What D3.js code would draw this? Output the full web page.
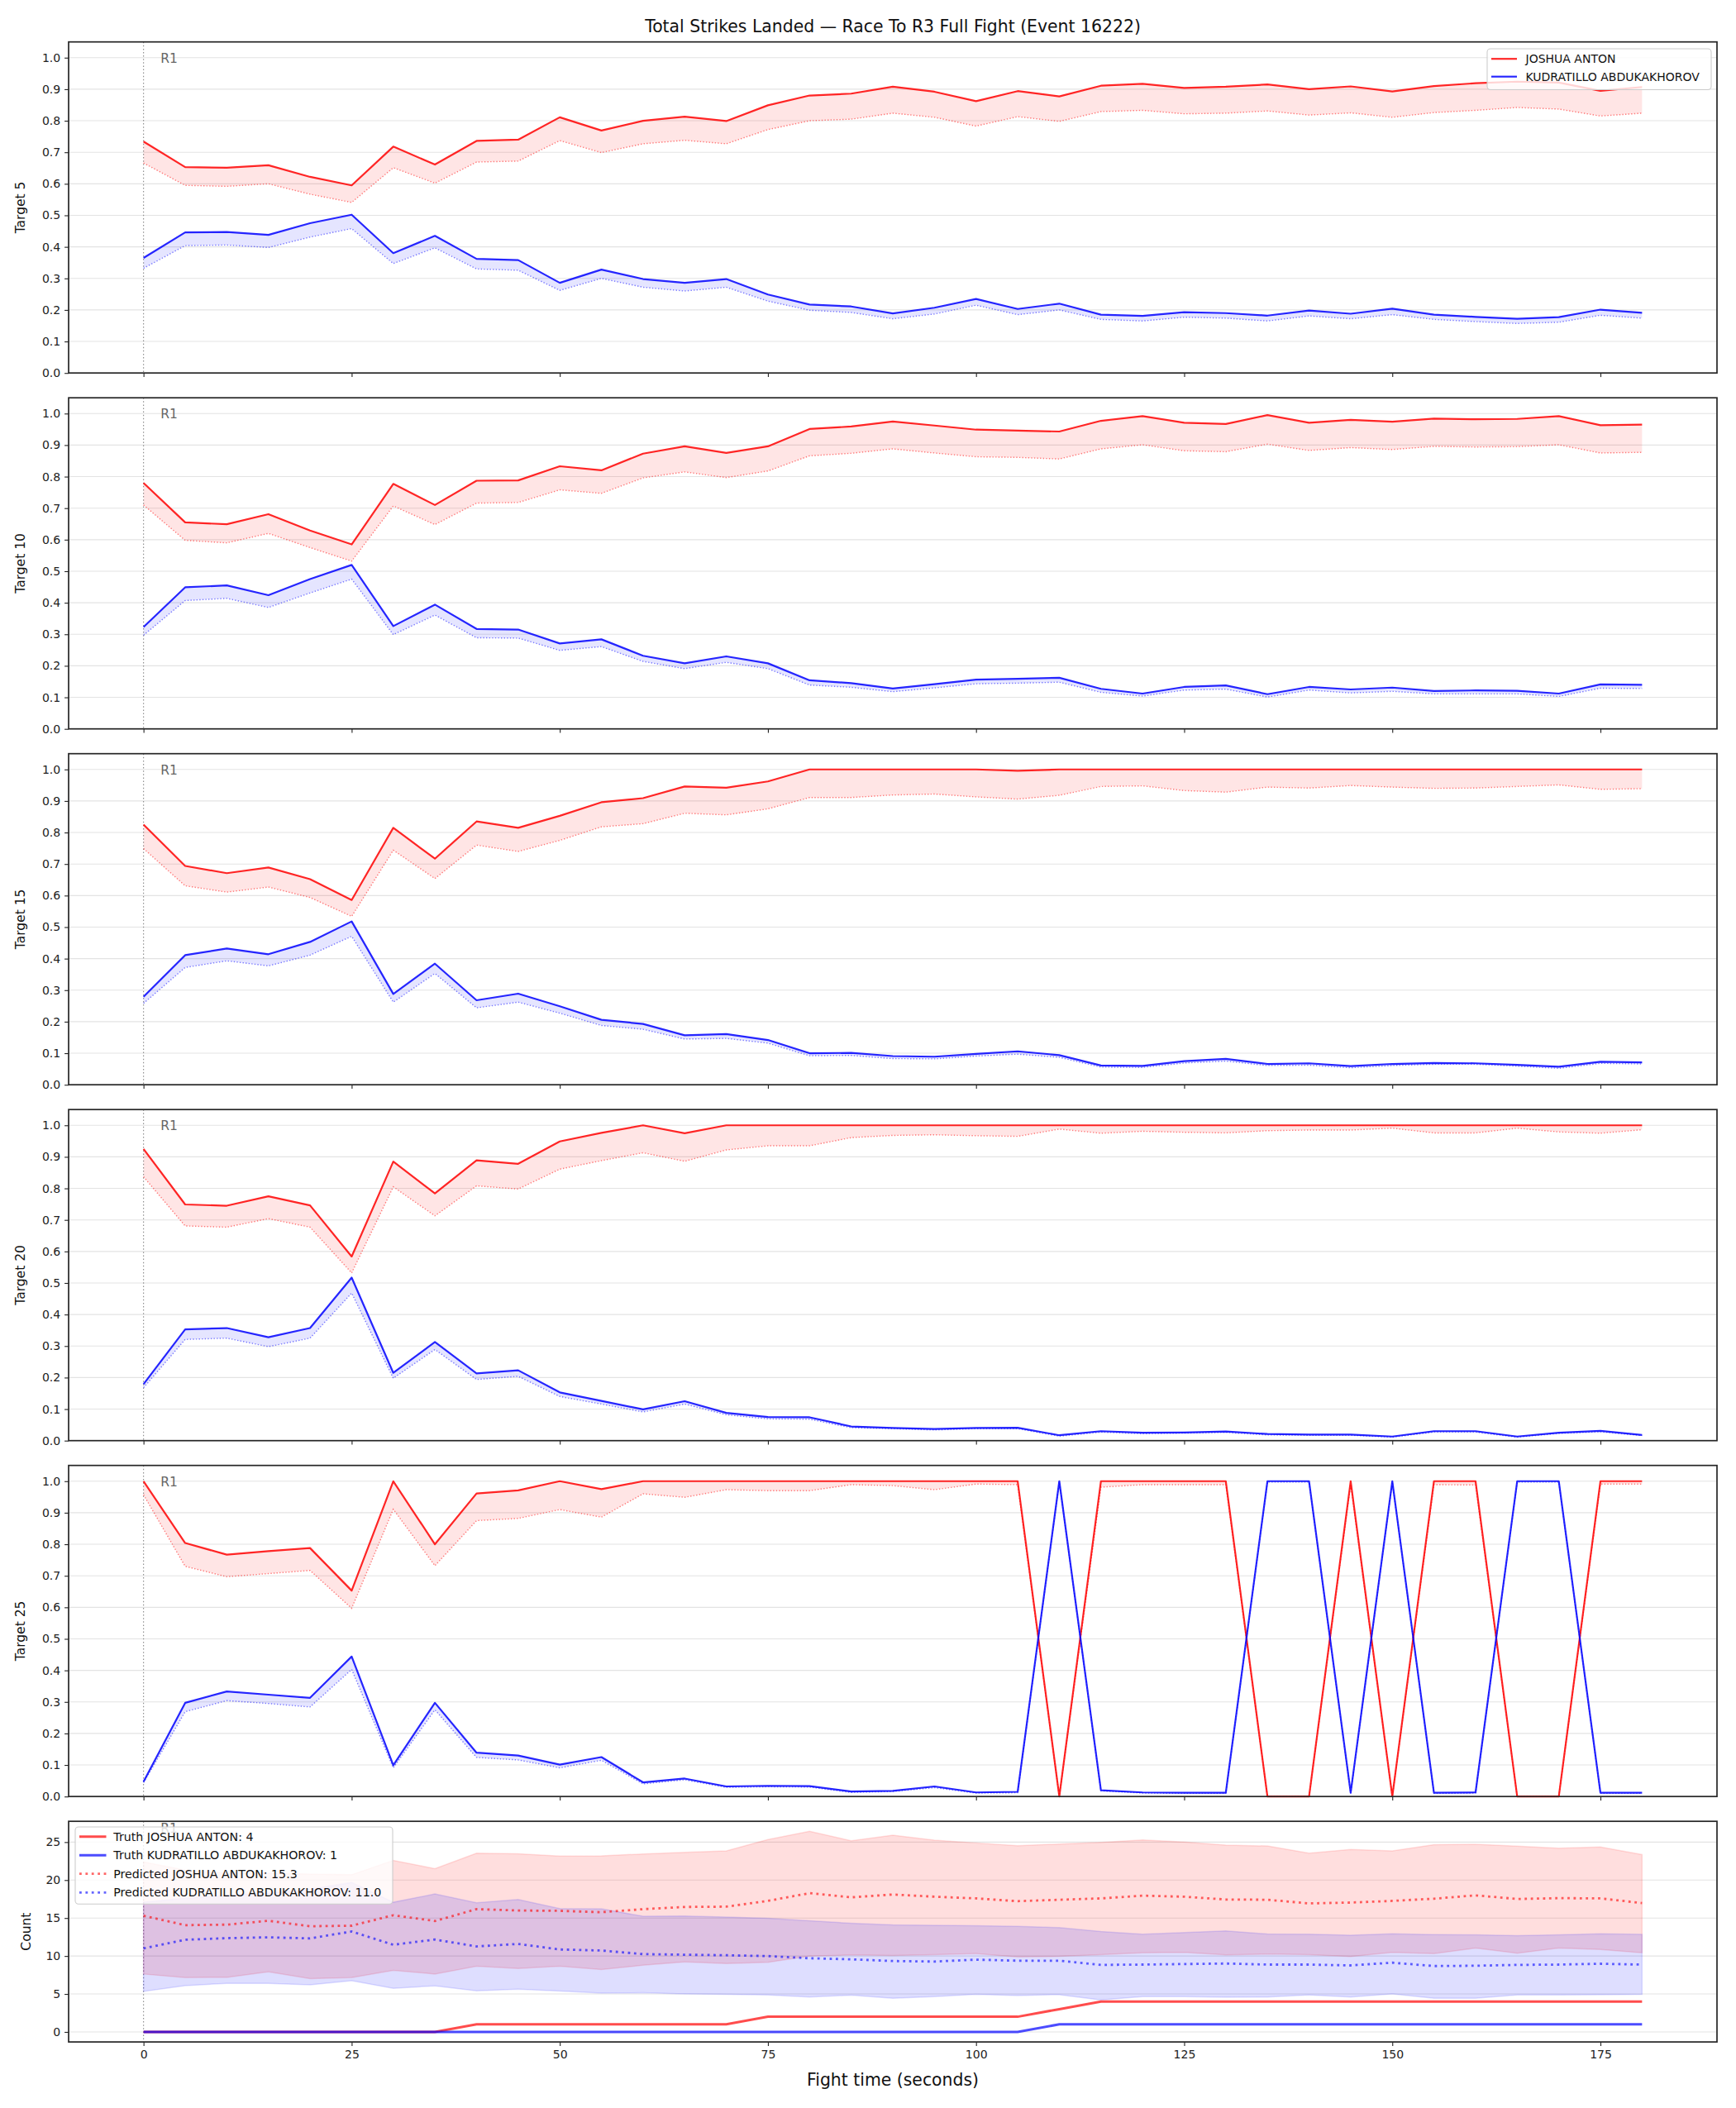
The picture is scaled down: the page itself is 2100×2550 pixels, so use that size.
<!DOCTYPE html>
<html><head><meta charset="utf-8">
<script src="https://cdn.jsdelivr.net/npm/d3@7/dist/d3.min.js"></script>
<style>
html,body{margin:0;padding:0;background:#fff;}
svg{display:block;}
</style></head>
<body>
<svg id="chart" width="2100" height="2550" xmlns="http://www.w3.org/2000/svg"></svg>
<script>
// ---------------- DATA ----------------
const titleText = "Total Strikes Landed \u2014 Race To R3 Full Fight (Event 16222)";
const xLabelText = "Fight time (seconds)";
const redName = "JOSHUA ANTON";
const blueName = "KUDRATILLO ABDUKAKHOROV";
const roundLabel = "R1";
const times = [0,5,10,15,20,25,30,35,40,45,50,55,60,65,70,75,80,85,90,95,100,105,110,115,120,125,130,135,140,145,150,155,160,165,170,175,180];
const xTicks = [0,25,50,75,100,125,150,175];
const probTicks = [0,0.1,0.2,0.3,0.4,0.5,0.6,0.7,0.8,0.9,1.0];
const countTicks = [0,5,10,15,20,25];
const targetLabels = ["Target 5","Target 10","Target 15","Target 20","Target 25"];

// Target 5
const t5Red      = [0.734,0.653,0.651,0.659,0.622,0.595,0.718,0.661,0.736,0.740,0.811,0.769,0.800,0.813,0.799,0.849,0.880,0.886,0.908,0.892,0.862,0.894,0.877,0.911,0.917,0.904,0.908,0.915,0.900,0.909,0.893,0.910,0.919,0.924,0.921,0.895,0.907];
const t5RedPred  = [0.666,0.595,0.592,0.600,0.567,0.541,0.651,0.602,0.669,0.672,0.737,0.699,0.727,0.738,0.727,0.772,0.800,0.805,0.824,0.811,0.783,0.813,0.798,0.829,0.833,0.822,0.824,0.831,0.818,0.825,0.811,0.826,0.833,0.842,0.837,0.815,0.824];
const t5Blue     = [0.365,0.446,0.447,0.438,0.475,0.502,0.380,0.435,0.362,0.358,0.286,0.328,0.298,0.286,0.298,0.249,0.217,0.211,0.189,0.207,0.235,0.203,0.220,0.185,0.181,0.193,0.190,0.182,0.198,0.188,0.204,0.185,0.178,0.172,0.177,0.201,0.191];
const t5BluePred = [0.332,0.404,0.406,0.398,0.431,0.458,0.347,0.397,0.330,0.326,0.262,0.300,0.272,0.260,0.272,0.228,0.199,0.192,0.172,0.187,0.215,0.185,0.200,0.170,0.165,0.177,0.174,0.165,0.181,0.172,0.185,0.170,0.163,0.157,0.161,0.183,0.174];

// Target 10
const t10Red      = [0.780,0.655,0.649,0.681,0.629,0.585,0.777,0.710,0.787,0.788,0.833,0.820,0.873,0.896,0.875,0.896,0.951,0.959,0.975,0.962,0.949,0.946,0.943,0.977,0.992,0.971,0.967,0.995,0.971,0.980,0.974,0.984,0.982,0.983,0.992,0.963,0.965];
const t10RedPred  = [0.710,0.598,0.590,0.620,0.575,0.532,0.707,0.648,0.716,0.718,0.758,0.747,0.796,0.815,0.797,0.818,0.866,0.874,0.888,0.875,0.863,0.861,0.856,0.888,0.901,0.882,0.879,0.903,0.883,0.892,0.886,0.896,0.894,0.895,0.901,0.875,0.877];
const t10Blue     = [0.323,0.449,0.455,0.424,0.475,0.520,0.326,0.394,0.317,0.315,0.271,0.284,0.232,0.208,0.230,0.208,0.154,0.145,0.128,0.142,0.156,0.159,0.162,0.127,0.112,0.133,0.138,0.110,0.133,0.125,0.131,0.120,0.122,0.121,0.112,0.141,0.140];
const t10BluePred = [0.297,0.407,0.414,0.385,0.431,0.475,0.299,0.361,0.289,0.288,0.249,0.261,0.214,0.191,0.211,0.191,0.139,0.132,0.118,0.130,0.143,0.145,0.148,0.116,0.104,0.123,0.126,0.101,0.123,0.114,0.119,0.111,0.111,0.111,0.103,0.129,0.128];

// Target 15
const t15Red      = [0.825,0.694,0.671,0.689,0.652,0.586,0.815,0.717,0.835,0.815,0.853,0.896,0.909,0.946,0.942,0.962,1.0,1.0,1.0,1.0,1.0,0.996,1.0,1.0,1.0,1.0,1.0,1.0,1.0,1.0,1.0,1.0,1.0,1.0,1.0,1.0,1.0];
const t15RedPred  = [0.749,0.631,0.611,0.627,0.594,0.534,0.744,0.654,0.760,0.740,0.775,0.818,0.828,0.861,0.856,0.875,0.911,0.911,0.919,0.922,0.913,0.906,0.918,0.946,0.948,0.933,0.928,0.944,0.941,0.949,0.944,0.940,0.941,0.946,0.951,0.937,0.939];
const t15Blue     = [0.279,0.411,0.432,0.414,0.453,0.518,0.288,0.384,0.268,0.289,0.249,0.206,0.193,0.157,0.161,0.142,0.100,0.101,0.091,0.089,0.098,0.106,0.094,0.061,0.060,0.075,0.082,0.066,0.068,0.059,0.066,0.069,0.068,0.063,0.057,0.073,0.071];
const t15BluePred = [0.258,0.372,0.393,0.377,0.411,0.471,0.262,0.353,0.244,0.262,0.227,0.188,0.176,0.145,0.147,0.132,0.092,0.093,0.083,0.082,0.091,0.097,0.087,0.056,0.055,0.069,0.075,0.061,0.062,0.054,0.061,0.065,0.065,0.059,0.052,0.068,0.066];

// Target 20
const t20Red      = [0.925,0.749,0.745,0.775,0.746,0.584,0.885,0.784,0.889,0.878,0.949,0.976,1.0,0.975,1.0,1.0,1.0,1.0,1.0,1.0,1.0,1.0,1.0,1.0,1.0,1.0,1.0,1.0,1.0,1.0,1.0,1.0,1.0,1.0,1.0,1.0,1.0];
const t20RedPred  = [0.837,0.681,0.677,0.704,0.677,0.532,0.805,0.713,0.808,0.798,0.861,0.888,0.913,0.886,0.922,0.935,0.935,0.961,0.968,0.970,0.967,0.965,0.988,0.975,0.981,0.978,0.976,0.983,0.985,0.985,0.991,0.976,0.976,0.991,0.979,0.975,0.986];
const t20Blue     = [0.179,0.353,0.357,0.328,0.357,0.517,0.215,0.313,0.213,0.223,0.153,0.126,0.099,0.125,0.088,0.075,0.074,0.045,0.040,0.037,0.040,0.041,0.017,0.030,0.025,0.026,0.029,0.021,0.019,0.019,0.013,0.030,0.030,0.013,0.025,0.031,0.018];
const t20BluePred = [0.168,0.321,0.325,0.298,0.325,0.468,0.198,0.289,0.194,0.204,0.140,0.116,0.091,0.116,0.082,0.069,0.068,0.041,0.038,0.034,0.038,0.038,0.014,0.027,0.022,0.024,0.026,0.018,0.017,0.017,0.011,0.027,0.027,0.011,0.023,0.028,0.016];

// Target 25
const t25Red      = [1.0,0.804,0.767,0.778,0.788,0.653,1.0,0.800,0.961,0.971,1.0,0.975,1.0,1.0,1.0,1.0,1.0,1.0,1.0,1.0,1.0,1.0,0.0,1.0,1.0,1.0,1.0,0.0,0.0,1.0,0.0,1.0,1.0,0.0,0.0,1.0,1.0];
const t25RedPred  = [0.957,0.730,0.697,0.707,0.717,0.597,0.911,0.732,0.875,0.882,0.910,0.886,0.960,0.949,0.973,0.970,0.970,0.989,0.986,0.973,0.991,0.989,0.0,0.981,0.989,0.989,0.989,0.0,0.0,0.990,0.0,0.989,0.988,0.0,0.0,0.991,0.991];
const t25Blue     = [0.047,0.297,0.333,0.323,0.313,0.444,0.099,0.297,0.139,0.130,0.101,0.125,0.045,0.057,0.032,0.034,0.033,0.016,0.018,0.032,0.013,0.015,1.0,0.020,0.013,0.012,0.012,1.0,1.0,0.012,1.0,0.012,0.013,1.0,1.0,0.012,0.012];
const t25BluePred = [0.044,0.269,0.304,0.295,0.284,0.403,0.091,0.275,0.124,0.116,0.091,0.115,0.040,0.053,0.029,0.031,0.030,0.013,0.016,0.028,0.011,0.012,0.997,0.018,0.011,0.010,0.010,0.997,0.997,0.010,0.997,0.010,0.011,0.997,0.997,0.010,0.010];

// Count panel
const truthRed  = [0,0,0,0,0,0,0,0,1,1,1,1,1,1,1,2,2,2,2,2,2,2,3,4,4,4,4,4,4,4,4,4,4,4,4,4,4];
const truthBlue = [0,0,0,0,0,0,0,0,0,0,0,0,0,0,0,0,0,0,0,0,0,0,1,1,1,1,1,1,1,1,1,1,1,1,1,1,1];
const predRed   = [15.3,14.06,14.13,14.64,13.92,13.99,15.37,14.61,16.17,15.99,15.95,15.77,16.17,16.46,16.50,17.26,18.28,17.73,18.10,17.81,17.59,17.22,17.41,17.59,17.95,17.81,17.44,17.41,16.93,17.04,17.26,17.55,17.99,17.51,17.62,17.59,16.97];
const predRedLo = [7.63,7.16,7.19,7.92,7.01,7.16,8.10,7.63,8.65,8.36,8.65,8.21,8.79,9.23,9.01,9.16,9.99,10.14,10.07,10.17,10.32,9.88,9.96,10.17,10.43,10.47,10.14,10.25,10.17,9.92,10.47,10.32,11.05,10.36,11.05,10.87,10.43];
const predRedHi = [22.4,21.3,20.9,20.9,20.8,20.7,22.6,21.5,23.55,23.47,23.15,23.18,23.44,23.66,23.84,25.33,26.42,25.18,25.91,25.25,24.89,24.53,24.74,24.96,25.29,25.00,24.60,24.49,23.55,24.02,23.84,24.67,24.71,24.46,24.20,24.35,23.36];
const predBlue   = [11.0,12.14,12.35,12.46,12.32,13.23,11.48,12.17,11.26,11.59,10.86,10.72,10.25,10.17,10.10,9.99,9.70,9.56,9.34,9.27,9.52,9.38,9.38,8.83,8.87,8.94,9.01,8.87,8.87,8.76,9.12,8.68,8.72,8.83,8.87,8.98,8.87];
const predBlueLo = [5.34,6.10,6.40,6.40,6.21,6.76,5.74,6.07,5.41,5.63,5.38,5.12,5.16,5.01,4.94,4.87,4.61,4.83,4.43,4.65,4.94,4.80,4.91,4.22,4.65,4.65,4.58,4.61,4.87,4.61,5.01,4.43,4.43,4.87,4.87,4.91,4.94];
const predBlueHi = [17.1,17.6,18.0,18.3,18.8,19.69,17.08,18.17,17.0,17.44,16.24,16.21,15.23,15.26,15.12,14.97,14.64,14.32,14.10,14.03,13.99,13.92,13.74,13.23,12.86,13.08,13.30,12.90,12.86,12.75,12.94,12.83,12.79,12.68,12.79,12.94,12.86];
const finalTruthRed = 4, finalTruthBlue = 1, firstPredRed = 15.3, firstPredBlue = 11.0;

// ---------------- LAYOUT ----------------
const FONT = '"DejaVu Sans", Verdana, sans-serif';
const PL = 83, PR = 2077;
const TOPS = [50.7, 481.2, 911.7, 1342.2, 1772.7, 2203.2];
const PROB_H = 400.5, COUNT_H = 266.9;
const RED = "#ff0000", BLUE = "#0000ff";

const svg = d3.select("#chart");
svg.append("rect").attr("width",2100).attr("height",2550).attr("fill","#fff");

const x = d3.scaleLinear().domain([-9, 189]).range([PL, PR]);

function styleAxis(g){
  g.attr("font-family", FONT).attr("font-size", 14);
  g.select(".domain").remove();
  g.selectAll(".tick line").attr("stroke","#222").attr("stroke-width",1.1);
  g.selectAll(".tick text").attr("fill","#222");
}

function frame(top, h, yDomain, yTicks, yFmt, yLabel, showXLabels, labelX, r1Y){
  const y = d3.scaleLinear().domain(yDomain).range([top + h, top]);
  const g = svg.append("g");
  // grid
  g.append("g").selectAll("line").data(yTicks).join("line")
    .attr("x1", PL).attr("x2", PR)
    .attr("y1", d => y(d)).attr("y2", d => y(d))
    .attr("stroke", "#e3e3e3").attr("stroke-width", 1.1);
  // round marker
  g.append("line").attr("x1", x(0)).attr("x2", x(0)).attr("y1", top).attr("y2", top + h)
    .attr("stroke", "#888").attr("stroke-width", 1.1).attr("stroke-dasharray", "1.5,2.6");
  g.append("text").attr("x", x(0) + 20.5).attr("y", r1Y(y))
    .attr("dominant-baseline", "central")
    .attr("font-family", FONT).attr("font-size", 15.5).attr("fill", "#666").text(roundLabel);
  const data = g.append("g");
  // axes
  const ya = svg.append("g").attr("transform", `translate(${PL},0)`)
    .call(d3.axisLeft(y).tickValues(yTicks).tickFormat(yFmt).tickSize(4.9).tickPadding(4.9).tickSizeOuter(0));
  styleAxis(ya);
  const xa = svg.append("g").attr("transform", `translate(0,${top + h})`)
    .call(d3.axisBottom(x).tickValues(xTicks).tickFormat(showXLabels ? d3.format("d") : () => "").tickSize(4.9).tickPadding(4.9).tickSizeOuter(0));
  styleAxis(xa);
  // spines
  svg.append("rect").attr("x", PL).attr("y", top).attr("width", PR - PL).attr("height", h)
    .attr("fill", "none").attr("stroke", "#262626").attr("stroke-width", 1.7);
  // y label
  svg.append("text").attr("transform", `translate(${labelX},${top + h / 2}) rotate(-90)`)
    .attr("text-anchor", "middle").attr("font-family", FONT).attr("font-size", 15.5).attr("fill", "#111")
    .text(yLabel);
  return { y, data };
}

function drawProb(p, idx){
  const top = TOPS[idx];
  const { y, data } = frame(top, PROB_H, [0, 1.05], probTicks, d3.format(".1f"), targetLabels[idx], false, 29.5, yy => yy(1.0) + 1);
  const series = [
    { truth: p.red, pred: p.redPred, color: RED },
    { truth: p.blue, pred: p.bluePred, color: BLUE }
  ];
  series.forEach(s => {
    const area = d3.area().x((d, i) => x(times[i])).y0((d, i) => y(s.pred[i])).y1(d => y(d));
    data.append("path").attr("d", area(s.truth)).attr("fill", s.color).attr("fill-opacity", 0.1);
    const ln = d3.line().x((d, i) => x(times[i])).y(d => y(d));
    data.append("path").attr("d", ln(s.pred)).attr("fill", "none").attr("stroke", s.color)
      .attr("stroke-opacity", 0.5).attr("stroke-width", 1.4).attr("stroke-dasharray", "1.4,2.2");
    data.append("path").attr("d", ln(s.truth)).attr("fill", "none").attr("stroke", s.color)
      .attr("stroke-opacity", 0.85).attr("stroke-width", 2.2).attr("stroke-linejoin", "round");
  });
}

const probPanels = [
  { red: t5Red, redPred: t5RedPred, blue: t5Blue, bluePred: t5BluePred },
  { red: t10Red, redPred: t10RedPred, blue: t10Blue, bluePred: t10BluePred },
  { red: t15Red, redPred: t15RedPred, blue: t15Blue, bluePred: t15BluePred },
  { red: t20Red, redPred: t20RedPred, blue: t20Blue, bluePred: t20BluePred },
  { red: t25Red, redPred: t25RedPred, blue: t25Blue, bluePred: t25BluePred }
];
probPanels.forEach((p, i) => drawProb(p, i));

// Count panel
(function(){
  const top = TOPS[5];
  const { y, data } = frame(top, COUNT_H, [-1.32, 27.74], countTicks, d3.format("d"), "Count", true, 37, yy => yy(26.8));
  const bands = [
    { lo: predRedLo, hi: predRedHi, color: RED },
    { lo: predBlueLo, hi: predBlueHi, color: BLUE }
  ];
  bands.forEach(b => {
    const area = d3.area().x((d, i) => x(times[i])).y0((d, i) => y(b.lo[i])).y1(d => y(d));
    data.append("path").attr("d", area(b.hi)).attr("fill", b.color).attr("fill-opacity", 0.13)
      .attr("stroke", b.color).attr("stroke-opacity", 0.12).attr("stroke-width", 1.5);
  });
  const ln = d3.line().x((d, i) => x(times[i])).y(d => y(d));
  data.append("path").attr("d", ln(truthRed)).attr("fill", "none").attr("stroke", RED).attr("stroke-opacity", 0.7).attr("stroke-width", 3);
  data.append("path").attr("d", ln(truthBlue)).attr("fill", "none").attr("stroke", BLUE).attr("stroke-opacity", 0.7).attr("stroke-width", 3);
  data.append("path").attr("d", ln(predRed)).attr("fill", "none").attr("stroke", RED).attr("stroke-opacity", 0.6).attr("stroke-width", 2.8).attr("stroke-dasharray", "2.8,4.6");
  data.append("path").attr("d", ln(predBlue)).attr("fill", "none").attr("stroke", BLUE).attr("stroke-opacity", 0.6).attr("stroke-width", 2.8).attr("stroke-dasharray", "2.8,4.6");

  // legend
  const lg = svg.append("g");
  lg.append("rect").attr("x", 91).attr("y", 2210).attr("width", 384).attr("height", 93.3).attr("rx", 4)
    .attr("fill", "#fff").attr("fill-opacity", 0.8).attr("stroke", "#cccccc").attr("stroke-width", 1.1);
  const items = [
    { label: `Truth ${redName}: ${finalTruthRed}`, color: RED, op: 0.7, w: 3, dash: null },
    { label: `Truth ${blueName}: ${finalTruthBlue}`, color: BLUE, op: 0.7, w: 3, dash: null },
    { label: `Predicted ${redName}: ${firstPredRed.toFixed(1)}`, color: RED, op: 0.6, w: 2.8, dash: "2.8,4.6" },
    { label: `Predicted ${blueName}: ${firstPredBlue.toFixed(1)}`, color: BLUE, op: 0.6, w: 2.8, dash: "2.8,4.6" }
  ];
  const rowY = [2221.7, 2244.3, 2266.7, 2289.3];
  items.forEach((it, i) => {
    const l = lg.append("line").attr("x1", 96).attr("x2", 128.5).attr("y1", rowY[i]).attr("y2", rowY[i])
      .attr("stroke", it.color).attr("stroke-opacity", it.op).attr("stroke-width", it.w);
    if (it.dash) l.attr("stroke-dasharray", it.dash);
    lg.append("text").attr("x", 137.3).attr("y", rowY[i]).attr("dominant-baseline", "central")
      .attr("font-family", FONT).attr("font-size", 14.2).attr("fill", "#111").text(it.label);
  });
})();

// Top legend
(function(){
  const lg = svg.append("g");
  lg.append("rect").attr("x", 1799).attr("y", 59).attr("width", 271).attr("height", 49.5).attr("rx", 4)
    .attr("fill", "#fff").attr("fill-opacity", 0.8).attr("stroke", "#cccccc").attr("stroke-width", 1.1);
  const items = [{ label: redName, color: RED }, { label: blueName, color: BLUE }];
  const rowY = [71.2, 92.7];
  items.forEach((it, i) => {
    lg.append("line").attr("x1", 1804).attr("x2", 1835).attr("y1", rowY[i]).attr("y2", rowY[i])
      .attr("stroke", it.color).attr("stroke-opacity", 0.85).attr("stroke-width", 2.2);
    lg.append("text").attr("x", 1845.5).attr("y", rowY[i]).attr("dominant-baseline", "central")
      .attr("font-family", FONT).attr("font-size", 14).attr("fill", "#111").text(it.label);
  });
})();

// Title and x label
svg.append("text").attr("x", 1080).attr("y", 38.5).attr("text-anchor", "middle")
  .attr("font-family", FONT).attr("font-size", 20.4).attr("fill", "#111").text(titleText);
svg.append("text").attr("x", 1080).attr("y", 2523).attr("text-anchor", "middle")
  .attr("font-family", FONT).attr("font-size", 20.4).attr("fill", "#111").text(xLabelText);
</script>
</body></html>
